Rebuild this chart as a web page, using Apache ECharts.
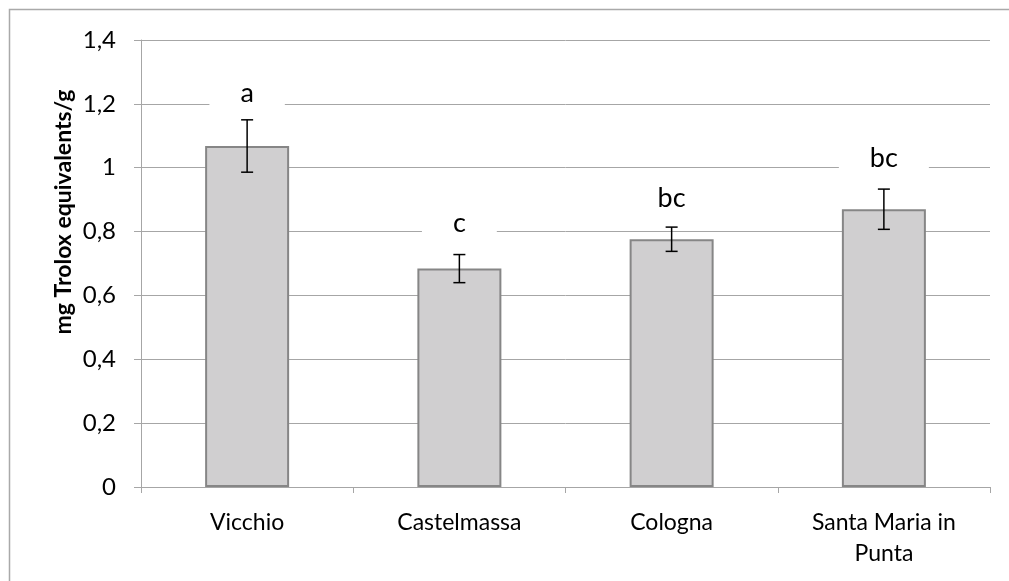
<!DOCTYPE html>
<html>
<head>
<meta charset="utf-8">
<script src="https://cdn.jsdelivr.net/npm/echarts@6/dist/echarts.min.js"></script>
<style>
  html, body { margin: 0; padding: 0; background: #fff; }
  #chart { width: 1009px; height: 581px; }
</style>
</head>
<body>
<div id="chart"></div>
<script>
// Antioxidant capacity per site (mean ± error)
const categories = ['Vicchio', 'Castelmassa', 'Cologna', 'Santa Maria in\nPunta'];
const means = [1.068, 0.684, 0.776, 0.870];
const errors = [0.082, 0.044, 0.038, 0.063];
// Significance letters and the value level where each one sits
const letters = ['a', 'c', 'bc', 'bc'];
const letterLevels = [1.232, 0.825, 0.905, 1.030];
const yTicks = { min: 0, max: 1.4, interval: 0.2 };

const FONT = 'Lato, "Open Sans", sans-serif';
const GRID_GREY = '#a6a6a6';

const chart = echarts.init(document.getElementById('chart'), null, { renderer: 'canvas' });

const errData = categories.map((c, i) => [i, means[i], errors[i], letterLevels[i]]);

const option = {
  animation: false,
  backgroundColor: '#fff',
  grid: { left: 141, right: 19, top: 40, bottom: 94, containLabel: false },
  graphic: [
    {
      type: 'rect',
      shape: { x: 9.5, y: 9.5, width: 1200, height: 800 },
      style: { fill: 'none', stroke: '#a9a9a9', lineWidth: 1.5 },
      silent: true
    },
    {
      type: 'text',
      x: 64, y: 212,
      rotation: Math.PI / 2,
      style: {
        text: 'mg Trolox equivalents/g',
        align: 'center', verticalAlign: 'middle',
        font: 'bold 23px ' + FONT,
        fill: '#000'
      }
    }
  ],
  xAxis: {
    type: 'category',
    data: categories,
    boundaryGap: true,
    axisLine: { show: true, lineStyle: { color: GRID_GREY, width: 1 } },
    axisTick: { show: true, length: 6, lineStyle: { color: GRID_GREY } },
    axisLabel: {
      color: '#000', fontFamily: FONT, fontSize: 23,
      lineHeight: 31, margin: 20, interval: 0
    },
    splitLine: { show: false }
  },
  yAxis: {
    type: 'value',
    min: yTicks.min, max: yTicks.max, interval: yTicks.interval,
    axisLine: { show: true, lineStyle: { color: GRID_GREY, width: 1 } },
    axisTick: { show: true, length: 7, lineStyle: { color: GRID_GREY } },
    axisLabel: {
      color: '#000', fontFamily: FONT, fontSize: 24, margin: 25,
      formatter: v => String(+v.toFixed(1)).replace('.', ',')
    },
    splitLine: { show: true, lineStyle: { color: GRID_GREY, width: 1 } }
  },
  series: [
    {
      type: 'bar',
      data: means,
      barWidth: 84,
      itemStyle: { color: '#d0cfd0', borderColor: '#868686', borderWidth: 2 },
      z: 2
    },
    {
      type: 'custom',
      data: errData,
      encode: { x: 0, y: 1 },
      z: 5,
      renderItem: function (params, api) {
        const i = api.value(0);
        const m = api.value(1);
        const e = api.value(2);
        const lv = api.value(3);
        const top = api.coord([i, m + e]);
        const bot = api.coord([i, m - e]);
        const lab = api.coord([i, lv]);
        const cap = 6;
        const st = { stroke: '#000', lineWidth: 1.5 };
        return {
          type: 'group',
          children: [
            { type: 'line', shape: { x1: top[0], y1: top[1], x2: bot[0], y2: bot[1] }, style: st },
            { type: 'line', shape: { x1: top[0] - cap, y1: top[1], x2: top[0] + cap, y2: top[1] }, style: st },
            { type: 'line', shape: { x1: bot[0] - cap, y1: bot[1], x2: bot[0] + cap, y2: bot[1] }, style: st },
            {
              type: 'text',
              x: lab[0], y: lab[1],
              style: {
                text: letters[i],
                align: 'center', verticalAlign: 'middle',
                font: '27px ' + FONT,
                fill: '#000',
                backgroundColor: '#fff',
                padding: [2, 31]
              }
            }
          ]
        };
      }
    }
  ]
};

chart.setOption(option);
</script>
</body>
</html>
